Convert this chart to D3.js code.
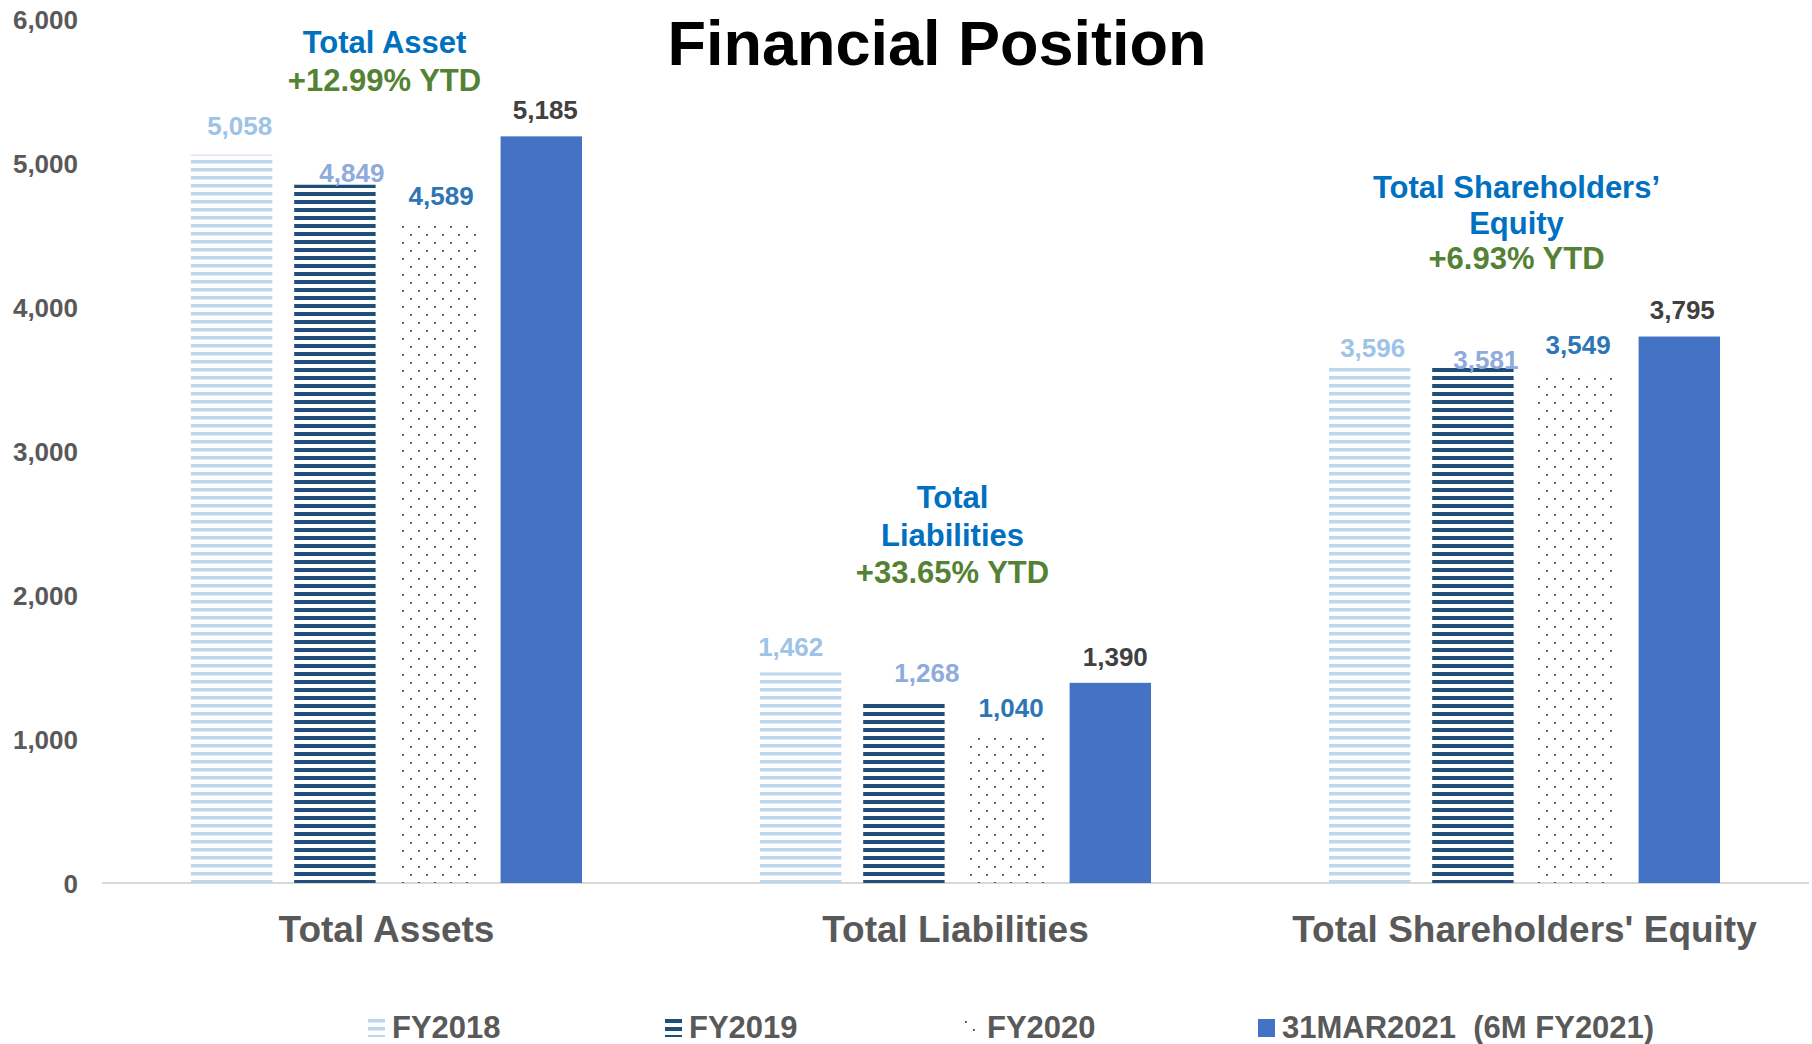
<!DOCTYPE html>
<html>
<head>
<meta charset="utf-8">
<script src="https://cdn.jsdelivr.net/npm/d3@7"></script>
<style>
  body { margin: 0; background: #fff; }
  text { font-family: "Liberation Sans", Arial, sans-serif; font-weight: bold; }
</style>
</head>
<body>
<script>
// data =====================================================================
var categories  = ["Total Assets", "Total Liabilities", "Total Shareholders' Equity"]
var seriesNames = ["FY2018", "FY2019", "FY2020", "31MAR2021  (6M FY2021)"]
var fy2018      = [5058, 1462, 3596]
var fy2019      = [4849, 1268, 3581]
var fy2020      = [4589, 1040, 3549]
var mar2021     = [5185, 1390, 3795]
var yTicks      = [0, 1000, 2000, 3000, 4000, 5000, 6000]
var headings    = [["Total Asset"], ["Total", "Liabilities"], ["Total Shareholders\u2019", "Equity"]]
var ytdChanges  = ["+12.99% YTD", "+33.65% YTD", "+6.93% YTD"]

// layout ===================================================================
var width = 1812, height = 1044
var seriesFill  = ["url(#p2018)", "url(#p2019)", "url(#p2020)", "#4472c4"]
var labelColors = ["#9dc3e6", "#8faadc", "#2e75b6", "#404040"]
// value labels were nudged by hand in the original: [dx, gap above bar]
var labelNudge = [
    [[8, 20], [-10, 16], [3, 8]],
    [[17, 3], [23, 18], [13, -2]],
    [[3, 17], [4, 16], [2, 18]],
    [[4, 17], [5, 17], [3, 18]]
]
var noteX    = [-2, -3, -8]
var noteTop  = [53, 508, 198]
var noteLine = [39, 38, 36]

var series = [fy2018, fy2019, fy2020, mar2021].map(function(vals, i) {
    return { name: seriesNames[i], index: i, values: vals }
})

var svg = d3.select("body").append("svg")
    .attr("xmlns", "http://www.w3.org/2000/svg")
    .attr("width", width)
    .attr("height", height)

// patterns
var defs = svg.append("defs")
defs.append("pattern").attr("id", "p2018").attr("patternUnits", "userSpaceOnUse")
    .attr("width", 8).attr("height", 8)
    .append("rect").attr("width", 8).attr("height", 3.5).attr("fill", "#bdd7ee")
defs.append("pattern").attr("id", "p2019").attr("patternUnits", "userSpaceOnUse")
    .attr("width", 8).attr("height", 8)
    .append("rect").attr("width", 8).attr("height", 4).attr("fill", "#1f4e79")
var dots = defs.append("pattern").attr("id", "p2020").attr("patternUnits", "userSpaceOnUse")
    .attr("width", 16).attr("height", 16)
dots.append("rect").attr("x", 2).attr("y", 2).attr("width", 1.8).attr("height", 1.8).attr("fill", "#1f4e79")
dots.append("rect").attr("x", 10).attr("y", 10).attr("width", 1.8).attr("height", 1.8).attr("fill", "#1f4e79")

// scales
var x0 = d3.scaleBand().domain(categories).range([102, 1809])
var x1 = d3.scaleBand().domain(seriesNames).range([0, x0.bandwidth()])
    .paddingInner(0.211).paddingOuter(0.862)
var y = d3.scaleLinear().domain([0, 6000]).range([883, 19])

// y axis (labels only)
var yAxis = svg.append("g")
    .attr("transform", "translate(78,0)")
    .call(d3.axisLeft(y).tickValues(yTicks).tickSize(0).tickPadding(0).tickFormat(d3.format(",")))
yAxis.select(".domain").remove()
yAxis.selectAll("text")
    .attr("x", 0)
    .attr("dy", "0.36em")
    .style("font-size", "26px")
    .style("font-family", "'Liberation Sans', Arial, sans-serif")
    .style("font-weight", "bold")
    .attr("fill", "#595959")

// baseline
svg.append("line")
    .attr("x1", 102).attr("x2", 1809)
    .attr("y1", y(0)).attr("y2", y(0))
    .attr("stroke", "#d9d9d9").attr("stroke-width", 2)

// bars
var groups = svg.append("g").selectAll("g")
    .data(series).enter().append("g")

groups.selectAll("rect")
    .data(function(s) { return s.values.map(function(v, c) { return { s: s, c: c, v: v } }) })
    .enter().append("rect")
    .attr("x", function(d) { return x0(categories[d.c]) + x1(d.s.name) })
    .attr("y", function(d) { return y(d.v) })
    .attr("width", x1.bandwidth())
    .attr("height", function(d) { return y(0) - y(d.v) })
    .attr("fill", function(d) { return seriesFill[d.s.index] })

// value labels
groups.selectAll("text")
    .data(function(s) { return s.values.map(function(v, c) { return { s: s, c: c, v: v } }) })
    .enter().append("text")
    .attr("x", function(d) { return x0(categories[d.c]) + x1(d.s.name) + x1.bandwidth() / 2 + labelNudge[d.s.index][d.c][0] })
    .attr("y", function(d) { return y(d.v) - labelNudge[d.s.index][d.c][1] })
    .attr("text-anchor", "middle")
    .attr("font-size", "26px")
    .attr("fill", function(d) { return labelColors[d.s.index] })
    .text(function(d) { return d3.format(",")(d.v) })

// category labels
svg.append("g").selectAll("text")
    .data(categories).enter().append("text")
    .attr("x", function(d) { return x0(d) + x0.bandwidth() / 2 })
    .attr("y", 942)
    .attr("text-anchor", "middle")
    .attr("font-size", "37px")
    .attr("fill", "#595959")
    .text(function(d) { return d })

// YTD notes
categories.forEach(function(c, i) {
    var cx = x0(c) + x0.bandwidth() / 2 + noteX[i]
    var note = svg.append("text")
        .attr("text-anchor", "middle")
        .attr("font-size", "31px")
    headings[i].forEach(function(line, k) {
        note.append("tspan").attr("x", cx).attr("y", noteTop[i] + k * noteLine[i])
            .attr("fill", "#0070c0").text(line)
    })
    note.append("tspan").attr("x", cx).attr("y", noteTop[i] + headings[i].length * noteLine[i] - 1)
        .attr("fill", "#548235").text(ytdChanges[i])
})

// title
svg.append("text")
    .attr("x", 937).attr("y", 65)
    .attr("text-anchor", "middle")
    .attr("font-size", "63px")
    .attr("fill", "#000")
    .text("Financial Position")

// legend
var legend = svg.append("g").selectAll("g")
    .data(series).enter().append("g")
    .attr("transform", function(d, i) { return "translate(" + [368, 665, 963, 1258][i] + ",1019)" })
legend.append("rect")
    .attr("width", 17).attr("height", 18)
    .attr("fill", function(d) { return seriesFill[d.index] })
legend.append("text")
    .attr("x", 24).attr("y", 19)
    .attr("font-size", "31px")
    .attr("fill", "#595959")
    .style("white-space", "pre")
    .text(function(d) { return d.name })
</script>
</body>
</html>
